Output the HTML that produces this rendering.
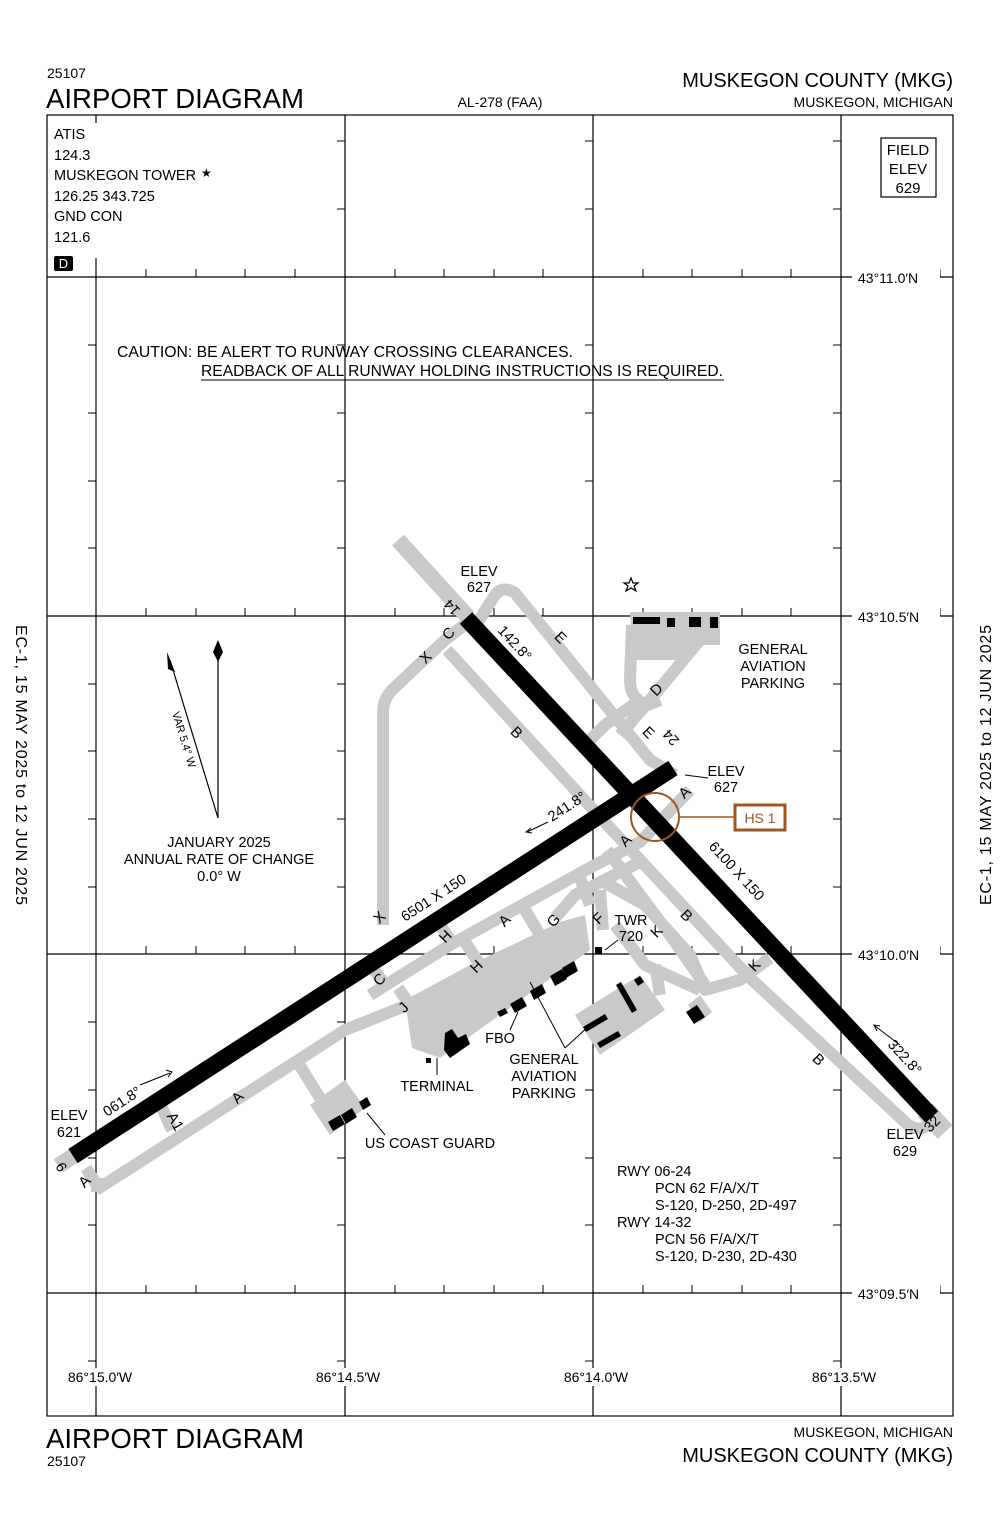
<!DOCTYPE html>
<html><head><meta charset="utf-8"><style>
html,body{margin:0;padding:0;background:#fff}
svg{display:block}
text{font-family:"Liberation Sans",sans-serif;fill:#000}
</style></head><body>
<svg width="1000" height="1533" viewBox="0 0 1000 1533" xmlns="http://www.w3.org/2000/svg">
<!-- header -->
<text x="47" y="78" font-size="14">25107</text>
<text x="46" y="108" font-size="28" textLength="258" lengthAdjust="spacingAndGlyphs">AIRPORT DIAGRAM</text>
<text x="500" y="107" font-size="14" text-anchor="middle">AL-278 (FAA)</text>
<text x="953" y="87" font-size="20" text-anchor="end">MUSKEGON COUNTY (MKG)</text>
<text x="953" y="107" font-size="14" text-anchor="end">MUSKEGON, MICHIGAN</text>
<!-- footer -->
<text x="46" y="1448" font-size="28" textLength="258" lengthAdjust="spacingAndGlyphs">AIRPORT DIAGRAM</text>
<text x="47" y="1466" font-size="14">25107</text>
<text x="953" y="1437" font-size="14" text-anchor="end">MUSKEGON, MICHIGAN</text>
<text x="953" y="1462" font-size="20" text-anchor="end">MUSKEGON COUNTY (MKG)</text>
<!-- side text -->
<text transform="translate(16,765) rotate(90)" font-size="16" text-anchor="middle" textLength="280" lengthAdjust="spacing">EC-1,  15 MAY 2025  to  12 JUN 2025</text>
<text transform="translate(991,765) rotate(-90)" font-size="16" text-anchor="middle" textLength="280" lengthAdjust="spacing">EC-1,  15 MAY 2025  to  12 JUN 2025</text>

<!-- frame & grid -->
<g stroke="#000" stroke-width="1.2" fill="none">
<rect x="47" y="115" width="906" height="1301"/>
<line x1="47" y1="277" x2="953" y2="277"/>
<line x1="47" y1="616" x2="953" y2="616"/>
<line x1="47" y1="954" x2="953" y2="954"/>
<line x1="47" y1="1293" x2="953" y2="1293"/>
<line x1="96" y1="277" x2="96" y2="1416"/>
<line x1="96" y1="115" x2="96" y2="123"/>
<line x1="96" y1="258" x2="96" y2="277"/>
<line x1="345" y1="115" x2="345" y2="1416"/>
<line x1="593" y1="115" x2="593" y2="1416"/>
<line x1="841" y1="115" x2="841" y2="1416"/>
</g>
<g stroke="#000" stroke-width="1">
<path d="M337 141h8M337 209h8M337 345h8M337 413h8M337 481h8M337 548h8M337 684h8M337 751h8M337 819h8M337 887h8M337 1022h8M337 1090h8M337 1158h8M337 1225h8M337 1361h8
M585 141h8M585 209h8M585 345h8M585 413h8M585 481h8M585 548h8M585 684h8M585 751h8M585 819h8M585 887h8M585 1022h8M585 1090h8M585 1158h8M585 1225h8M585 1361h8
M833 141h8M833 209h8M833 345h8M833 413h8M833 481h8M833 548h8M833 684h8M833 751h8M833 819h8M833 887h8M833 1022h8M833 1090h8M833 1158h8M833 1225h8M833 1361h8
M88 345h8M88 413h8M88 481h8M88 548h8M88 684h8M88 751h8M88 819h8M88 887h8M88 1022h8M88 1090h8M88 1158h8M88 1225h8M88 1361h8"/>
<path d="M146 277v-8M196 277v-8M245 277v-8M295 277v-8M395 277v-8M444 277v-8M494 277v-8M543 277v-8M643 277v-8M692 277v-8M742 277v-8M791 277v-8M891 277v-8M940 277v-8
M146 616v-8M196 616v-8M245 616v-8M295 616v-8M395 616v-8M444 616v-8M494 616v-8M543 616v-8M643 616v-8M692 616v-8M742 616v-8M791 616v-8M891 616v-8M940 616v-8
M146 954v-8M196 954v-8M245 954v-8M295 954v-8M395 954v-8M444 954v-8M494 954v-8M543 954v-8M643 954v-8M692 954v-8M742 954v-8M791 954v-8M891 954v-8M940 954v-8
M146 1293v-8M196 1293v-8M245 1293v-8M295 1293v-8M395 1293v-8M444 1293v-8M494 1293v-8M543 1293v-8M643 1293v-8M692 1293v-8M742 1293v-8M791 1293v-8M891 1293v-8M940 1293v-8"/>
</g>
<g font-size="14">
<rect x="852" y="268" width="88" height="18" fill="#fff"/>
<text x="858" y="283">43°11.0′N</text>
<rect x="852" y="607" width="88" height="18" fill="#fff"/>
<text x="858" y="622">43°10.5′N</text>
<rect x="852" y="945" width="88" height="18" fill="#fff"/>
<text x="858" y="960">43°10.0′N</text>
<rect x="852" y="1284" width="88" height="18" fill="#fff"/>
<text x="858" y="1299">43°09.5′N</text>
<rect x="62" y="1368" width="76" height="18" fill="#fff"/>
<text x="100" y="1382" text-anchor="middle">86°15.0′W</text>
<rect x="310" y="1368" width="76" height="18" fill="#fff"/>
<text x="348" y="1382" text-anchor="middle">86°14.5′W</text>
<rect x="558" y="1368" width="76" height="18" fill="#fff"/>
<text x="596" y="1382" text-anchor="middle">86°14.0′W</text>
<rect x="806" y="1368" width="76" height="18" fill="#fff"/>
<text x="844" y="1382" text-anchor="middle">86°13.5′W</text>
</g>

<!-- ATIS block -->
<g font-size="14.5">
<text x="54" y="139">ATIS</text>
<text x="54" y="160">124.3</text>
<text x="54" y="180">MUSKEGON TOWER</text>
<text x="201" y="177" font-size="12">★</text>
<text x="54" y="201">126.25  343.725</text>
<text x="54" y="221">GND CON</text>
<text x="54" y="242">121.6</text>
</g>
<rect x="54" y="256" width="19" height="15" rx="2" fill="#000"/>
<text x="63.5" y="268" font-size="13" text-anchor="middle" style="fill:#fff">D</text>
<rect x="881" y="138" width="55" height="59" fill="#fff" stroke="#000" stroke-width="1.2"/>
<g font-size="15" text-anchor="middle">
<text x="908" y="155">FIELD</text><text x="908" y="174">ELEV</text><text x="908" y="193">629</text>
</g>

<!-- caution -->
<text x="117" y="357" font-size="16" textLength="456" lengthAdjust="spacingAndGlyphs">CAUTION: BE ALERT TO RUNWAY CROSSING CLEARANCES.</text>
<text x="201" y="376" font-size="16" textLength="522" lengthAdjust="spacingAndGlyphs">READBACK OF ALL RUNWAY HOLDING INSTRUCTIONS IS REQUIRED.</text>
<line x1="201" y1="380" x2="724" y2="380" stroke="#000" stroke-width="1"/>

<!-- magnetic variation -->
<line x1="218" y1="818" x2="218" y2="650" stroke="#000" stroke-width="1.2"/>
<path d="M218 640 L223 652 L218 662 L213 652 Z" fill="#000"/>
<line x1="218" y1="818" x2="170" y2="660" stroke="#000" stroke-width="1.2"/>
<path d="M167 652 L175 672 L168 669 Z" fill="#000"/>
<text transform="translate(172,713) rotate(73)" font-size="11">VAR 5.4° W</text>
<g font-size="14.5" text-anchor="middle">
<text x="219" y="847">JANUARY 2025</text>
<text x="219" y="864">ANNUAL RATE OF CHANGE</text>
<text x="219" y="881">0.0° W</text>
</g>

<!-- taxiways (gray) -->
<g stroke="#c9c9c9" stroke-width="12" fill="none" stroke-linejoin="round">
<line x1="398" y1="540" x2="468" y2="617" stroke-width="16"/>
<line x1="925" y1="1110" x2="945" y2="1132" stroke-width="20"/>
<line x1="75" y1="1155" x2="58" y2="1166" stroke-width="16"/>
<!-- X / C -->
<path d="M468 622 L445 640 L392 690 Q383 700 383 712 L383 925"/>
<!-- E -->
<path d="M478 622 L495 595 Q503 585 515 593 L650 760 L675 775"/>
<!-- B -->
<path d="M447 650 L600 817 L750 978 L905 1122 Q918 1135 932 1122"/>
<!-- A main -->
<path d="M98 1187 L86 1168 M96 1190 L345 1030 L420 1000"/>
<path d="M97 1178 L97 1192"/>
<!-- A1 -->
<path d="M162 1108 L172 1130"/>
<!-- band1 (A) -->
<path d="M370 995 L450 945 L593 866 L640 842 L690 790"/>
<!-- upper band G/F -->
<path d="M555 918 L575 895 L640 862"/>
<!-- connectors runway->band -->
<path d="M370 965 L388 988"/>
<path d="M440 925 L455 947"/>
<!-- band->apron -->
<path d="M398 988 L410 1005"/>
<path d="M465 942 L485 972"/>
<path d="M525 910 L540 935"/>
<path d="M580 878 L590 905"/>
<!-- F -->
<path d="M600 890 L603 930"/>
<!-- east lines -->
<path d="M607 850 L670 935 L705 985"/>
<path d="M600 880 L645 905 L690 955 L705 990 L740 980 L770 958"/>
<path d="M615 925 L645 965 L700 990"/>
<path d="M655 965 L660 995"/>
<!-- coast guard connector -->
<path d="M300 1066 L320 1098"/>
<!-- D / GA north -->
<path d="M632 625 L630 680 Q630 700 648 705 L660 700"/>
<path d="M700 640 L650 700 L620 735"/>
<path d="M640 700 L605 725 L590 740"/>
</g>
<!-- aprons -->
<g fill="#c9c9c9">
<polygon points="405,1000 470,965 560,922 585,915 590,950 440,1058 412,1048"/>
<polygon points="310,1105 345,1080 365,1108 330,1135"/>
<polygon points="630,612 720,612 720,645 690,645 680,660 633,660"/>
<polygon points="575,1015 640,975 665,1010 600,1055"/>
<polygon points="688,1005 700,995 712,1012 700,1022"/>
</g>

<!-- runways -->
<g stroke="#000" stroke-width="17" fill="none">
<line x1="73" y1="1156" x2="673" y2="768"/>
<line x1="466" y1="618" x2="932" y2="1117"/>
</g>

<!-- buildings -->
<g fill="#000">
<rect x="633" y="617" width="27" height="7"/>
<rect x="667" y="618" width="8" height="9"/>
<rect x="689" y="617" width="12" height="10"/>
<rect x="710" y="617" width="8" height="11"/>
<polygon points="445,1033 452,1029 458,1038 466,1034 470,1044 450,1058 444,1050"/>
<rect x="426" y="1058" width="5" height="5"/>
<polygon points="510,1004 522,997 527,1006 515,1013"/>
<polygon points="497,1012 505,1008 508,1013 500,1017"/>
<polygon points="530,991 542,984 546,993 534,1000"/>
<polygon points="550,976 562,969 567,979 555,986"/>
<polygon points="562,968 574,961 578,971 566,978"/>
<rect x="595" y="947" width="7" height="7"/>
<polygon points="583,1027 605,1014 608,1019 586,1032"/>
<polygon points="597,1043 618,1031 621,1036 600,1048"/>
<polygon points="616,985 621,982 637,1010 632,1013"/>
<polygon points="634,980 640,976 644,982 638,986"/>
<polygon points="686,1012 697,1005 705,1017 694,1024"/>
<polygon points="328,1122 340,1115 345,1124 333,1131"/>
<polygon points="341,1115 352,1108 357,1117 346,1124"/>
<polygon points="359,1102 367,1097 371,1105 363,1110"/>
</g>

<!-- HS 1 -->
<circle cx="655" cy="817" r="24" fill="none" stroke="#a0561c" stroke-width="2"/>
<line x1="679" y1="817" x2="735" y2="817" stroke="#a0561c" stroke-width="1.5"/>
<rect x="735" y="805" width="50" height="25" fill="#fff" stroke="#a0561c" stroke-width="3"/>
<text x="760" y="823" font-size="14" text-anchor="middle" style="fill:#a0561c">HS 1</text>

<!-- labels -->
<g font-size="14.5" text-anchor="middle">
<text x="479" y="576">ELEV</text><text x="479" y="592">627</text>
<text x="726" y="776">ELEV</text><text x="726" y="792">627</text>
<text x="69" y="1120">ELEV</text><text x="69" y="1137">621</text>
<text x="905" y="1139">ELEV</text><text x="905" y="1156">629</text>
<text x="773" y="654">GENERAL</text><text x="773" y="671">AVIATION</text><text x="773" y="688">PARKING</text>
<text x="544" y="1064">GENERAL</text><text x="544" y="1081">AVIATION</text><text x="544" y="1098">PARKING</text>
<text x="437" y="1091">TERMINAL</text>
<text x="500" y="1043">FBO</text>
<text x="430" y="1148">US COAST GUARD</text>
<text x="631" y="925">TWR</text><text x="631" y="941">720</text>
</g>
<g stroke="#000" stroke-width="1" fill="none">
<line x1="437" y1="1075" x2="437" y2="1058"/>
<line x1="510" y1="1030" x2="518" y2="1012"/>
<line x1="565" y1="1048" x2="530" y2="982"/>
<line x1="565" y1="1048" x2="590" y2="1025"/>
<line x1="385" y1="1135" x2="367" y2="1113"/>
<line x1="605" y1="950" x2="618" y2="940"/>
<line x1="708" y1="778" x2="685" y2="775"/>
</g>
<g font-size="14.5">
<text x="617" y="1176">RWY 06-24</text>
<text x="655" y="1193">PCN 62 F/A/X/T</text>
<text x="655" y="1210">S-120, D-250, 2D-497</text>
<text x="617" y="1227">RWY 14-32</text>
<text x="655" y="1244">PCN 56 F/A/X/T</text>
<text x="655" y="1261">S-120, D-230, 2D-430</text>
</g>
<!-- runway text -->
<g font-size="14.5">
<text transform="translate(405,922) rotate(-33)">6501 X 150</text>
<text transform="translate(708,847) rotate(47.5)">6100 X 150</text>
<text transform="translate(107,1117) rotate(-33)">061.8°</text>
<text transform="translate(552,822) rotate(-33)">241.8°</text>
<text transform="translate(497,631) rotate(47.5)">142.8°</text>
<text transform="translate(887,1045) rotate(47.5)">322.8°</text>
<text transform="translate(461,610) rotate(-133)">14</text>
<text transform="translate(680,740) rotate(-133)">24</text>
<text transform="translate(930,1133) rotate(-46)">32</text>
<text transform="translate(55,1166) rotate(60)">6</text>
</g>
<g stroke="#000" stroke-width="1" fill="none">
<line x1="140" y1="1085" x2="170" y2="1073"/><path d="M166 1070 L172 1072 L168 1077"/>
<line x1="548" y1="822" x2="527" y2="832"/><path d="M531 828 L526 832 L532 833"/>
<line x1="517" y1="680" x2="541" y2="706"/><path d="M536 704 L542 707 L540 701"/>
<line x1="900" y1="1045" x2="875" y2="1026"/><path d="M880 1026 L874 1025 L877 1031"/>
</g>
<!-- taxiway letters -->
<g font-size="15" text-anchor="middle">
<text transform="translate(452,637) rotate(-45)">C</text>
<text transform="translate(429,661) rotate(-45)">X</text>
<text transform="translate(557,641) rotate(45)">E</text>
<text transform="translate(660,693) rotate(-45)">D</text>
<text transform="translate(645,736) rotate(45)">E</text>
<text transform="translate(513,736) rotate(45)">B</text>
<text transform="translate(688,796) rotate(-45)">A</text>
<text transform="translate(629,844) rotate(-45)">A</text>
<text transform="translate(383,921) rotate(-45)">X</text>
<text transform="translate(449,940) rotate(-45)">H</text>
<text transform="translate(508,924) rotate(-45)">A</text>
<text transform="translate(557,924) rotate(-45)">G</text>
<text transform="translate(602,922) rotate(-45)">F</text>
<text transform="translate(660,935) rotate(-45)">K</text>
<text transform="translate(683,919) rotate(45)">B</text>
<text transform="translate(480,970) rotate(-45)">H</text>
<text transform="translate(383,983) rotate(-45)">C</text>
<text transform="translate(407,1011) rotate(-45)">J</text>
<text transform="translate(758,969) rotate(-45)">K</text>
<text transform="translate(815,1063) rotate(45)">B</text>
<text transform="translate(241,1101) rotate(-45)">A</text>
<text transform="translate(171,1124) rotate(60)">A1</text>
<text transform="translate(88,1185) rotate(-45)">A</text>
</g>
<path d="M631 578 L633 583 L638 583 L634 586 L636 591 L631 588 L626 591 L628 586 L624 583 L629 583 Z" fill="none" stroke="#000" stroke-width="1.2"/>
</svg>
</body></html>
